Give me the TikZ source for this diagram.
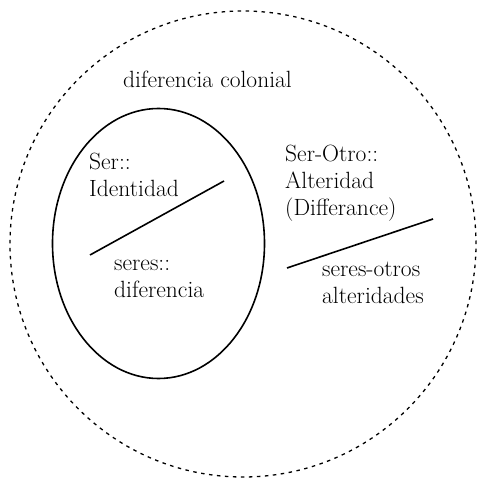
\documentclass[tikz,border=0pt]{standalone}
\usepackage{tikz}
\usetikzlibrary{shapes.geometric}

\begin{document}
\begin{tikzpicture}[%
  x=1pt, y=1pt,
  label text/.style={anchor=base west, inner sep=0pt, align=left,
    font=\fontsize{23.5}{27}\selectfont},
  bar/.style={line width=1.6pt}]
  \useasboundingbox (0,0) rectangle (477,480);
  \node [draw, circle, dashed, dash pattern=on 3.5pt off 4.5pt, line width=1.3pt,
    minimum size=466pt, inner sep=0pt] (colonial) at (243,236) {};
  \node [draw, ellipse, line width=1.6pt, minimum width=212pt,
    minimum height=270pt, inner sep=0pt] (ser) at (158.5,236.5) {};
  \node [label text] (dif) at (123,392) {diferencia colonial};
  \node [label text] (ident) at (89,283) {Ser::\\Identidad};
  \node [label text] (seres) at (114,182) {seres::\\diferencia};
  \node [label text] (alter) at (285,264) {Ser-Otro::\\Alteridad\\(Differance)};
  \node [label text] (otros) at (322,176) {seres-otros\\alteridades};
  \coordinate (ser-a) at (90,225);
  \coordinate (ser-b) at (224,299);
  \coordinate (otro-a) at (287,212);
  \coordinate (otro-b) at (433,261);
  \draw [bar] (ser-a) -- (ser-b);
  \draw [bar] (otro-a) -- (otro-b);
\end{tikzpicture}
\end{document}
